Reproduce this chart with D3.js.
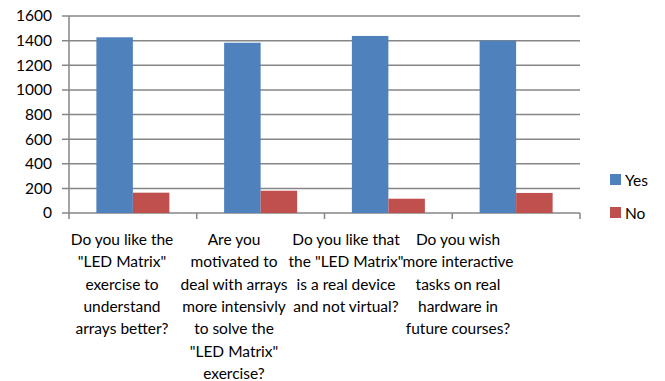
<!DOCTYPE html>
<html><head><meta charset="utf-8">
<script src="https://cdn.jsdelivr.net/npm/d3@7"></script>
<style>body{margin:0;background:#fff;}text{font-family:Lato,"Open Sans",sans-serif;fill:#000;}</style>
</head><body><svg id="c" width="665" height="381"></svg>
<script>
const categories = [
  ["Do you like the", "\"LED Matrix\"", "exercise to", "understand", "arrays better?"],
  ["Are you", "motivated to", "deal with arrays", "more intensivly", "to solve the", "\"LED Matrix\"", "exercise?"],
  ["Do you like that", "the \"LED Matrix\"", "is a real device", "and not virtual?"],
  ["Do you wish", "more interactive", "tasks on real", "hardware in", "future courses?"]
];
const seriesNames = ["Yes", "No"];
const yesValues = [1427, 1383, 1438, 1400];
const noValues = [165, 181, 116, 163];
const yTicks = [0, 200, 400, 600, 800, 1000, 1200, 1400, 1600];
const colors = ["#4F81BD", "#C0504D"];

const svg = d3.select("#c");
const x0 = 69, x1 = 580, yTop = 16, yBot = 213;
const keys = categories.map((d, i) => i);
const x = d3.scaleBand().domain(keys).range([x0, x1]);
const y = d3.scaleLinear().domain([0, 1600]).range([yBot, yTop]);
const inner = d3.scaleBand().domain(seriesNames).range([0, x.bandwidth()]).paddingInner(0).paddingOuter(0.75);

// gridlines
svg.append("g").selectAll("line").data(yTicks).join("line")
  .attr("x1", x0 - 7).attr("x2", x1)
  .attr("y1", d => y(d)).attr("y2", d => y(d))
  .attr("stroke", "#868686").attr("stroke-width", 1.5);
// y axis line
svg.append("line").attr("x1", x0).attr("x2", x0).attr("y1", yTop).attr("y2", yBot)
  .attr("stroke", "#868686").attr("stroke-width", 1.5);
// x ticks
const xb = keys.map(k => x(k)).concat([x1]);
svg.append("g").selectAll("line").data(xb).join("line")
  .attr("x1", d => d).attr("x2", d => d).attr("y1", yBot).attr("y2", yBot + 6)
  .attr("stroke", "#868686").attr("stroke-width", 1.5);

// y labels
svg.append("g").selectAll("text").data(yTicks).join("text")
  .attr("x", 52).attr("y", d => y(d)).attr("dy", "0.35em")
  .attr("text-anchor", "end").attr("font-size", 15.5).text(d => d);

// bars
const rows = keys.map(k => ({k, vals: [yesValues[k], noValues[k]]}));
const g = svg.append("g").selectAll("g").data(rows).join("g")
  .attr("transform", d => `translate(${x(d.k)},0)`);
g.selectAll("rect").data(d => d.vals.map((v, i) => ({name: seriesNames[i], v, i}))).join("rect")
  .attr("x", d => inner(d.name)).attr("width", inner.bandwidth())
  .attr("y", d => y(d.v)).attr("height", d => yBot - y(d.v))
  .attr("fill", d => colors[d.i]);

// category labels
const lx = d3.scaleBand().domain(keys).range([66, 514]);
const lab = svg.append("g").selectAll("text").data(keys).join("text")
  .attr("text-anchor", "middle").attr("font-size", 15.5)
  .attr("transform", k => `translate(${lx(k) + lx.bandwidth() / 2},245)`);
lab.selectAll("tspan").data(k => categories[k]).join("tspan")
  .attr("x", 0).attr("dy", (d, i) => i === 0 ? 0 : 22.3).text(d => d);

// legend
const leg = svg.append("g").selectAll("g").data(seriesNames).join("g")
  .attr("transform", (d, i) => `translate(610,${174 + i * 33})`);
leg.append("rect").attr("width", 11).attr("height", 11).attr("fill", (d, i) => colors[i]);
leg.append("text").attr("x", 15).attr("y", 6).attr("dy", "0.38em").attr("font-size", 15.5).text(d => d);
</script></body></html>
